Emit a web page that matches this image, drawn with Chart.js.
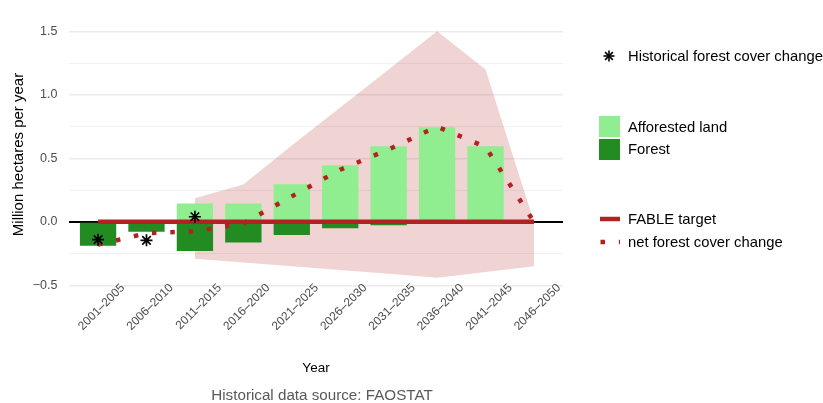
<!DOCTYPE html>
<html>
<head>
<meta charset="utf-8">
<title>Forest cover change</title>
<script src="https://cdn.jsdelivr.net/npm/chart.js@4.4.1/dist/chart.umd.min.js"></script>
<style>
  html, body { margin: 0; padding: 0; background: #fff; }
  #wrap { position: relative; width: 823px; height: 403px; overflow: hidden;
          font-family: "Liberation Sans", Arial, Helvetica, sans-serif; }
  #forest-chart { position: absolute; left: 0; top: 0; }
  #keys { position: absolute; left: 0; top: 0; pointer-events: none; }
  .lg { position: absolute; left: 628px; height: 20px; line-height: 20px;
        font-size: 14.8px; color: #000; white-space: nowrap; }
  #caption { position: absolute; left: 122px; width: 400px; top: 385px; height: 20px;
             line-height: 20px; text-align: center; font-size: 15.2px; color: #595959; }
</style>
</head>
<body>
<div id="wrap">
  <canvas id="forest-chart" width="823" height="403"></canvas>

  <!-- légende -->
  <svg id="keys" width="823" height="403">
    <g stroke="#000" stroke-width="1.6">
      <line x1="603.5" y1="56" x2="614.5" y2="56"/>
      <line x1="609" y1="50.5" x2="609" y2="61.5"/>
      <line x1="605.1" y1="52.1" x2="612.9" y2="59.9"/>
      <line x1="605.1" y1="59.9" x2="612.9" y2="52.1"/>
    </g>
    <rect x="599" y="116" width="21" height="21" fill="#90EE90"/>
    <rect x="599" y="139" width="21" height="21" fill="#228B22"/>
    <line x1="600" y1="219" x2="620" y2="219" stroke="#B22222" stroke-width="4.5"/>
    <line x1="600.5" y1="242" x2="620" y2="242" stroke="#B22222" stroke-width="4.5"
          stroke-dasharray="4.5 13.9"/>
  </svg>
  <div class="lg" style="top:46px">Historical forest cover change</div>
  <div class="lg" style="top:117px">Afforested land</div>
  <div class="lg" style="top:139px">Forest</div>
  <div class="lg" style="top:209px">FABLE target</div>
  <div class="lg" style="top:232px">net forest cover change</div>

  <div id="caption">Historical data source: FAOSTAT</div>
</div>

<script>
/* ---- Données (millions d'hectares par an) ---- */
const periods = ['2001–2005', '2006–2010', '2011–2015', '2016–2020', '2021–2025',
                 '2026–2030', '2031–2035', '2036–2040', '2041–2045', '2046–2050'];

const afforested  = [0, 0, 0.145, 0.145, 0.295, 0.445, 0.595, 0.745, 0.595, 0];
const forest      = [-0.188, -0.078, -0.229, -0.163, -0.103, -0.05, -0.028, 0, 0, 0];
const netChange   = [-0.18, -0.09, -0.075, -0.012, 0.2, 0.41, 0.57, 0.75, 0.59, 0];
const fableTarget = [0, 0, 0, 0, 0, 0, 0, 0, 0, 0];

// FAOSTAT, trois premières périodes seulement
const histChange  = [-0.141, -0.146, 0.04];

// enveloppe des scénarios, de 2011–2015 à 2046–2050
const bandUpper   = [0.186, 0.294, 0.6, 0.9, 1.2, 1.5, 1.2, 0];
const bandLower   = [-0.29, -0.32, -0.35, -0.38, -0.41, -0.44, -0.395, -0.35];
const bandStart   = 2;

const yTicks = [-0.5, -0.25, 0, 0.25, 0.5, 0.75, 1, 1.25, 1.5];

/* ---- Helpers ---- */
const toPoints = (vals, offset = 0) => vals.map((v, i) => ({ x: offset + i + 1, y: v }));
const isMajor  = v => Math.abs(v % 0.5) < 1e-9;
const fmtY     = v => v.toFixed(1).replace('-', '\u2212');

const RED  = '#B22222';
const FONT = '"Liberation Sans", Arial, Helvetica, sans-serif';

new Chart(document.getElementById('forest-chart'), {
  type: 'bar',
  data: {
    datasets: [
      {
        type: 'line',
        label: 'Historical forest cover change',
        data: toPoints(histChange),
        showLine: false,
        pointStyle: 'star',
        pointRadius: 6,
        pointBorderWidth: 1.7,
        borderColor: '#000',
        backgroundColor: '#000',
        order: 0,
      },
      {
        type: 'line',
        label: 'net forest cover change',
        data: toPoints(netChange),
        borderColor: RED,
        borderWidth: 4.5,
        borderDash: [4.5, 13.9],
        borderCapStyle: 'butt',
        pointRadius: 0,
        tension: 0,
        fill: false,
        order: 1,
      },
      {
        type: 'line',
        label: 'FABLE target',
        data: toPoints(fableTarget),
        borderColor: RED,
        borderWidth: 4.5,
        pointRadius: 0,
        fill: false,
        order: 2,
      },
      {
        label: 'Afforested land',
        data: toPoints(afforested),
        backgroundColor: '#90EE90',
        borderWidth: 0,
        grouped: false,
        barPercentage: 0.75,
        categoryPercentage: 1,
        order: 3,
      },
      {
        label: 'Forest',
        data: toPoints(forest),
        backgroundColor: '#228B22',
        borderWidth: 0,
        grouped: false,
        barPercentage: 0.75,
        categoryPercentage: 1,
        order: 3,
      },
      {
        type: 'line',
        label: 'band-upper',
        data: toPoints(bandUpper, bandStart),
        borderWidth: 0,
        pointRadius: 0,
        backgroundColor: 'rgba(178, 34, 34, 0.2)',
        fill: '+1',
        order: 5,
      },
      {
        type: 'line',
        label: 'band-lower',
        data: toPoints(bandLower, bandStart),
        borderWidth: 0,
        pointRadius: 0,
        fill: false,
        order: 6,
      },
    ],
  },
  options: {
    responsive: false,
    animation: false,
    layout: { padding: { left: 0, right: 260, top: 7, bottom: 0 } },
    plugins: {
      legend: { display: false },
      tooltip: { enabled: false },
    },
    scales: {
      x: {
        type: 'linear',
        offset: false,
        min: 0.4,
        max: 10.6,
        afterBuildTicks: s => { s.ticks = periods.map((_, i) => ({ value: i + 1 })); },
        afterFit: s => { s.height = 113; },
        grid: { display: false },
        border: { display: false },
        ticks: {
          // mirror évite le découpage des étiquettes tournées au bord de l'axe
          mirror: true,
          autoSkip: false,
          minRotation: 45,
          maxRotation: 45,
          labelOffset: 35,
          padding: -1,
          color: '#4D4D4D',
          font: { family: FONT, size: 12 },
          callback: v => periods[v - 1],
        },
        title: {
          display: true,
          text: 'Year',
          color: '#000',
          font: { family: FONT, size: 13.5 },
          padding: { top: 0, bottom: 27 },
        },
      },
      y: {
        min: -0.537,
        max: 1.597,
        afterBuildTicks: s => { s.ticks = yTicks.map(v => ({ value: v })); },
        afterFit: s => { s.width = 69; },
        border: { display: false },
        grid: {
          drawTicks: false,
          color: ctx => ctx.tick.value === 0 ? '#000' : (isMajor(ctx.tick.value) ? '#EBEBEB' : '#F1F1F1'),
          lineWidth: ctx => ctx.tick.value === 0 ? 2 : (isMajor(ctx.tick.value) ? 1.5 : 1),
        },
        ticks: {
          padding: 11.5,
          color: '#4D4D4D',
          font: { family: FONT, size: 12.5 },
          callback: v => isMajor(v) ? fmtY(v) : '',
        },
        title: {
          display: true,
          text: 'Million hectares per year',
          color: '#000',
          font: { family: FONT, size: 15 },
          padding: { top: 9.5, bottom: 0 },
        },
      },
    },
  },
});
</script>
</body>
</html>
